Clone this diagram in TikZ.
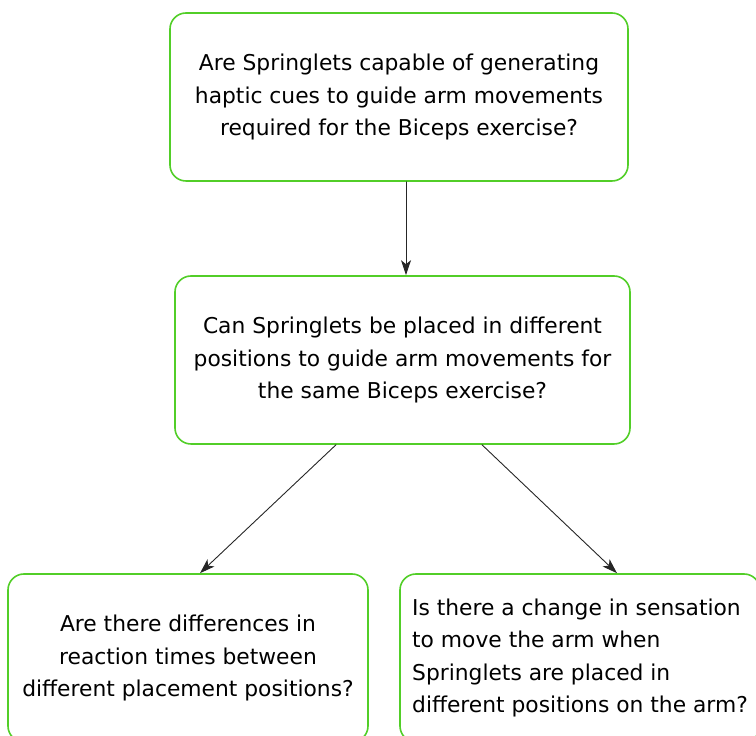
\documentclass[tikz,border=0pt]{standalone}
\usepackage{fontspec}
\setmainfont{DejaVu Sans}
\usetikzlibrary{arrows.meta}
\definecolor{boxgreen}{RGB}{82,206,40}
\tikzset{
    qbox/.style={
        draw=boxgreen, line width=1.6pt, rounded corners=16pt,
        minimum height=168pt, inner sep=0pt,
        font=\fontsize{21.8}{32.5}\selectfont
    },
    link/.style={
        -{Stealth[length=15pt,width=10pt,inset=4pt]}, line width=0.9pt, black!85
    }
}

\begin{document}
\begin{tikzpicture}[x=1pt,y=1pt,line cap=round,line join=round]

% --- frame ---
    \useasboundingbox (0,0) rectangle (756,736);
    \clip (0,0) rectangle (756,736);

% questions
    \node[qbox, minimum width=458pt, align=center] (q1) at (399,639)
      {Are Springlets capable of generating\\haptic cues to guide arm movements\\required for the Biceps exercise?};
    \node[qbox, minimum width=455pt, align=center] (q2) at (402.5,376)
      {Can Springlets be placed in different\\positions to guide arm movements for\\the same Biceps exercise?};
    \node[qbox, minimum width=360pt, align=center] (q3) at (188,78)
      {Are there differences in\\reaction times between\\different placement positions?};
    \node[qbox, minimum width=360pt, align=left] (q4) at (580,78)
      {Is there a change in sensation\\to move the arm when\\Springlets are placed in\\different positions on the arm?};

% arrows
    \draw[link] ([xshift=7pt]q1.south) -- ([xshift=3.5pt]q2.north);
    \draw[link] ([xshift=-66.5pt]q2.south) -- ([xshift=12pt]q3.north);
    \draw[link] ([xshift=79.5pt]q2.south) -- ([xshift=37pt]q4.north);

\end{tikzpicture}
\end{document}
